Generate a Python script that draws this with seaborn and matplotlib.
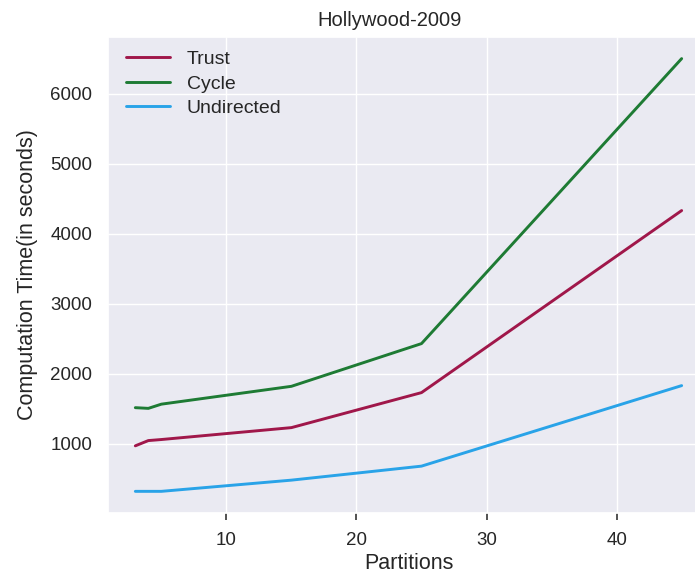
import matplotlib
matplotlib.use("Agg")
import matplotlib.pyplot as plt
import seaborn as sns
import pandas as pd

# Computation time (seconds) per number of partitions
partitions = [3, 4, 5, 15, 25, 45]
trust = [970, 1045, 1060, 1230, 1730, 4330]
cycle = [1515, 1505, 1565, 1820, 2430, 6500]
undirected = [320, 320, 320, 480, 680, 1830]

series_names = ["Trust", "Cycle", "Undirected"]
series_colors = ["#A0174A", "#1E7B34", "#29A3E8"]

sns.set_theme(style="darkgrid")
plt.rcParams["font.family"] = ["Liberation Sans", "DejaVu Sans"]

df = pd.DataFrame({
    "Partitions": partitions * 3,
    "Time": trust + cycle + undirected,
    "Graph": [n for n in series_names for _ in partitions],
})

fig = plt.figure(figsize=(6.95, 5.74), dpi=100)
ax = fig.add_axes([0.1554, 0.1063, 0.8647, 0.8293])

sns.lineplot(data=df, x="Partitions", y="Time", hue="Graph",
             hue_order=series_names, palette=series_colors,
             linewidth=2.1, ax=ax)

ax.set_title("Hollywood-2009", fontsize=14.5, color="#262626", pad=8, x=0.468)
ax.set_xlabel("Partitions", fontsize=15.5, color="#262626", labelpad=3)
ax.set_ylabel("Computation Time(in seconds)", fontsize=15.5, color="#262626",
              labelpad=9)

ax.set_xticks([10, 20, 30, 40])
ax.set_yticks([1000, 2000, 3000, 4000, 5000, 6000])
ax.tick_params(axis="x", bottom=True, length=5, width=1.2, color="#333333",
               labelsize=13.5, labelcolor="#262626", pad=8.5)
ax.tick_params(axis="y", left=False, length=0, labelsize=13.5,
               labelcolor="#262626", pad=11.5)

leg = ax.legend(loc="upper left", bbox_to_anchor=(0.0, 1.008), frameon=False,
                fontsize=14, handlelength=2.3, handletextpad=0.85,
                labelspacing=0.35, borderaxespad=0.5)
for line in leg.get_lines():
    line.set_linewidth(2.1)

fig.savefig("out.png", dpi=100)
